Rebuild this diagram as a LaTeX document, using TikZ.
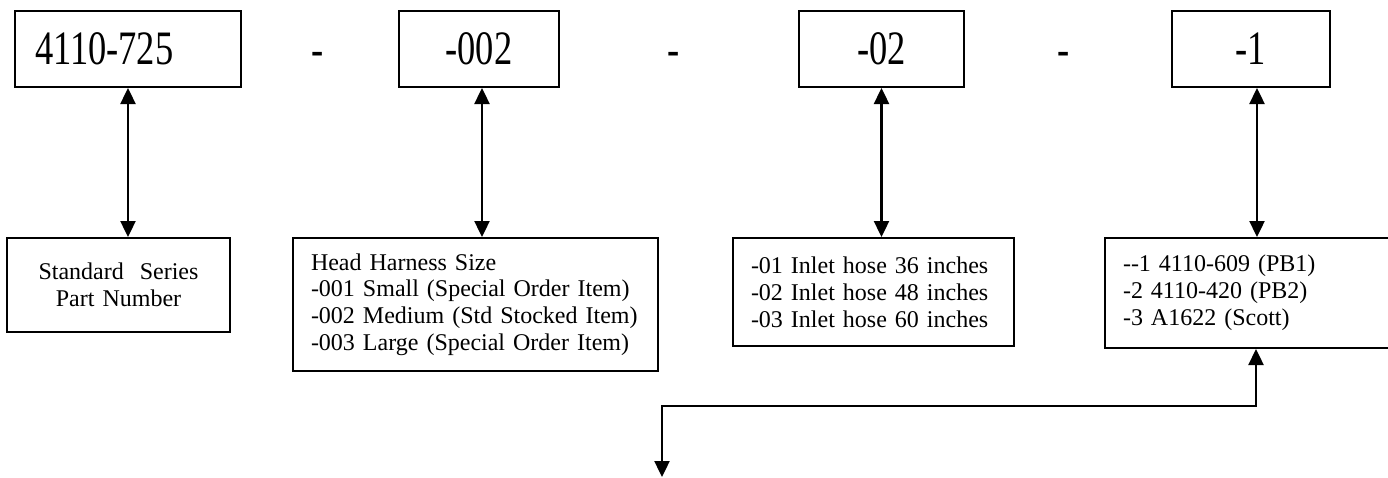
\documentclass[tikz,border=0pt]{standalone}
\usepackage{fontspec}
\setmainfont{Liberation Serif}
\newfontfamily\codefont[FakeStretch=0.76]{Liberation Serif}
\usetikzlibrary{arrows.meta, positioning}

\begin{document}
\begin{tikzpicture}[node distance=74.5pt,
  codebox/.style={draw, line width=1pt, minimum height=38pt, inner sep=0pt, font=\codefont\fontsize{24}{28}\selectfont},
  infobox/.style={draw, line width=1pt, inner xsep=9pt, align=left, font=\fontsize{12}{13.4}\selectfont},
  link/.style={line width=1.2pt, {Triangle[length=8pt,width=7.5pt]}-{Triangle[length=8pt,width=7.5pt]}}]
  \useasboundingbox (0,0) rectangle (694pt,-238.5pt);
  % part number fields
  \node[codebox, text width=93pt, inner xsep=10pt, align=left] (part) at (64pt,-24.5pt) {4110-725};
  \node[codebox, minimum width=80pt, right=78pt of part] (size) {-002};
  \node[codebox, minimum width=82.5pt, right=119pt of size] (hose) {-02};
  \node[codebox, minimum width=79pt, right=103pt of hose] (opt) {-1};
  \node[font=\codefont\fontsize{24}{28}\selectfont, anchor=base] (dash1) at (158.75pt,-32.8pt) {-};
  \node[font=\codefont\fontsize{24}{28}\selectfont, anchor=base] (dash2) at (337pt,-32.8pt) {-};
  \node[font=\codefont\fontsize{24}{28}\selectfont, anchor=base] (dash3) at (532pt,-32.8pt) {-};
  % descriptions
  \node[infobox, text width=93.5pt, align=center, minimum height=47pt, below=of part, xshift=-4.75pt] (partdesc) {Standard\ \ Series\\Part Number};
  \node[infobox, text width=164.5pt, minimum height=66.5pt, below=of size, xshift=-1.75pt] (sizedesc) {Head Harness Size\\-001 Small (Special Order Item)\\-002 Medium (Std Stocked Item)\\-003 Large (Special Order Item)};
  \node[infobox, text width=122.5pt, minimum height=54pt, below=of hose, xshift=-4pt] (hosedesc) {-01 Inlet hose 36 inches\\-02 Inlet hose 48 inches\\-03 Inlet hose 60 inches};
  \node[infobox, text width=126pt, minimum height=55pt, below=of opt, xshift=-1pt] (optdesc) {-{}-1 4110-609 (PB1)\\-2 4110-420 (PB2)\\-3 A1622 (Scott)};
  \coordinate (bend) at (331pt,-203pt);
  \coordinate (loose) at (331pt,-238.5pt);
  % connectors
  \draw[link] (part.south) -- (part.south |- partdesc.north);
  \draw[link] ([xshift=1.5pt]size.south) -- ([xshift=1.5pt]size.south |- sizedesc.north);
  \draw[link] (hose.south) -- (hose.south |- hosedesc.north);
  \draw[link] ([xshift=3pt]opt.south) -- ([xshift=3pt]opt.south |- optdesc.north);
  \draw[link] (loose) -- (bend) -| ([xshift=3.5pt]optdesc.south);
\end{tikzpicture}
\end{document}
